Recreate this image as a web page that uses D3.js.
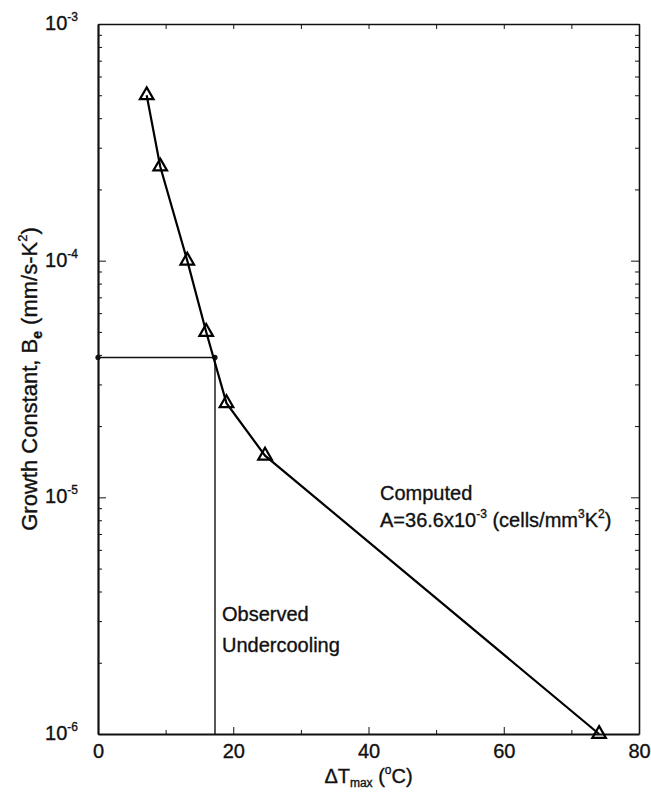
<!DOCTYPE html>
<html>
<head>
<meta charset="utf-8">
<script src="https://cdn.jsdelivr.net/npm/d3@7"></script>
<style>
  body { margin: 0; background: #fff; }
  svg { display: block; font-family: "Liberation Sans", Arial, Helvetica, sans-serif; }
  .axis path, .axis line { stroke: #111; }
  text { stroke: #111; stroke-width: 0.35px; }
</style>
</head>
<body>
<script>
// Data
var undercooling = [7.2, 9.2, 13.2, 16.0, 19.0, 24.7, 74.1];
var growthConstant = [5e-4, 2.5e-4, 1e-4, 5e-5, 2.5e-5, 1.5e-5, 1e-6];

// Observed undercooling and the growth constant it gives
var observedX = [0, 17.3, 17.3];
var observedY = [3.9e-5, 3.9e-5, 1e-6];

// Tick values and labels
var xMajorTicks = [0, 20, 40, 60, 80];
var xMinorTicks = [10, 30, 50, 70];
var yMajorTicks = [1e-6, 1e-5, 1e-4, 1e-3];
var yExponents = ["-6", "-5", "-4", "-3"];

// Define SVG area dimensions
var svgWidth = 651;
var svgHeight = 793;

var margin = { top: 24, right: 12, bottom: 59, left: 98 };
var chartWidth = svgWidth - margin.left - margin.right;
var chartHeight = svgHeight - margin.top - margin.bottom;

var svg = d3.select("body")
  .append("svg")
  .attr("width", svgWidth)
  .attr("height", svgHeight);

var chartGroup = svg.append("g")
  .attr("transform", `translate(${margin.left}, ${margin.top})`);

// Scales
var xScale = d3.scaleLinear().domain([0, 80]).range([0, chartWidth]);
var yScale = d3.scaleLog().domain([1e-6, 1e-3]).range([chartHeight, 0]);

// minor log ticks: 2..9 in each decade
var yMinorTicks = [];
yMajorTicks.slice(0, 3).forEach(function(d) {
  for (var k = 2; k <= 9; k++) yMinorTicks.push(d * k);
});

// Bottom axis (ticks point inward)
chartGroup.append("g")
  .classed("axis", true)
  .attr("transform", `translate(0, ${chartHeight})`)
  .call(d3.axisBottom(xScale).tickValues(xMajorTicks).tickSizeInner(-7).tickSizeOuter(0).tickPadding(10))
  .call(g => g.select(".domain").attr("stroke-width", 2.2))
  .call(g => g.selectAll("text").attr("font-size", 20).attr("fill", "#111").attr("font-family", null));

chartGroup.append("g")
  .classed("axis", true)
  .attr("transform", `translate(0, ${chartHeight})`)
  .call(d3.axisBottom(xScale).tickValues(xMinorTicks).tickSizeInner(-4).tickSizeOuter(0).tickFormat(""))
  .call(g => g.select(".domain").remove());

// Top axis
chartGroup.append("g")
  .classed("axis", true)
  .call(d3.axisTop(xScale).tickValues(xMajorTicks.concat(xMinorTicks)).tickSizeInner(-5).tickSizeOuter(0).tickFormat(""))
  .call(g => g.select(".domain").attr("stroke-width", 1.6));

// Left axis
chartGroup.append("g")
  .classed("axis", true)
  .call(d3.axisLeft(yScale).tickValues(yMajorTicks).tickSizeInner(-8).tickSizeOuter(0).tickFormat(""))
  .call(g => g.select(".domain").attr("stroke-width", 2.2));

chartGroup.append("g")
  .classed("axis", true)
  .call(d3.axisLeft(yScale).tickValues(yMinorTicks).tickSizeInner(-4).tickSizeOuter(0).tickFormat(""))
  .call(g => g.select(".domain").remove());

// Right axis
chartGroup.append("g")
  .classed("axis", true)
  .attr("transform", `translate(${chartWidth}, 0)`)
  .call(d3.axisRight(yScale).tickValues(yMajorTicks).tickSizeInner(-8).tickSizeOuter(0).tickFormat(""))
  .call(g => g.select(".domain").attr("stroke-width", 1.6));

chartGroup.append("g")
  .classed("axis", true)
  .attr("transform", `translate(${chartWidth}, 0)`)
  .call(d3.axisRight(yScale).tickValues(yMinorTicks).tickSizeInner(-4).tickSizeOuter(0).tickFormat(""))
  .call(g => g.select(".domain").remove());

// Y tick labels as 10 with a raised exponent
var yLabels = chartGroup.selectAll(".ylab")
  .data(yMajorTicks)
  .enter()
  .append("text")
  .attr("class", "ylab")
  .attr("x", -20)
  .attr("y", d => yScale(d) + 6)
  .attr("text-anchor", "end")
  .attr("font-size", 20)
  .attr("fill", "#111");
yLabels.append("tspan").text("10");
yLabels.append("tspan")
  .attr("font-size", 12)
  .attr("dy", -9)
  .text((d, i) => yExponents[i]);

// Observed undercooling lines
var observedLine = d3.line()
  .x((d, i) => xScale(observedX[i]))
  .y((d, i) => yScale(observedY[i]));

chartGroup.append("path")
  .attr("d", observedLine(observedX))
  .attr("fill", "none")
  .attr("stroke", "#111")
  .attr("stroke-width", 1.4);

chartGroup.selectAll(".obsdot")
  .data([0, 1])
  .enter()
  .append("circle")
  .attr("cx", i => xScale(observedX[i]))
  .attr("cy", i => yScale(observedY[i]))
  .attr("r", 2.6)
  .attr("fill", "#111");

// Computed curve
var drawLine = d3.line()
  .x((d, i) => xScale(undercooling[i]))
  .y((d, i) => yScale(growthConstant[i]));

chartGroup.append("path")
  .attr("d", drawLine(undercooling))
  .attr("fill", "none")
  .attr("stroke", "#000")
  .attr("stroke-width", 2.2);

// Open triangle markers
var triangle = d3.symbol().type(d3.symbolTriangle).size(80);
chartGroup.selectAll(".marker")
  .data(undercooling)
  .enter()
  .append("path")
  .attr("class", "marker")
  .attr("d", triangle)
  .attr("transform", (d, i) => `translate(${xScale(d)}, ${yScale(growthConstant[i])})`)
  .attr("fill", "none")
  .attr("stroke", "#000")
  .attr("stroke-width", 2.2);

// Annotations
chartGroup.append("text")
  .attr("x", 282)
  .attr("y", 476)
  .attr("font-size", 20)
  .attr("fill", "#111")
  .text("Computed");

var aText = chartGroup.append("text")
  .attr("x", 282)
  .attr("y", 503)
  .attr("font-size", 20)
  .attr("fill", "#111");
aText.append("tspan").text("A=36.6x10");
aText.append("tspan").attr("font-size", 12).attr("dy", -9).text("-3");
aText.append("tspan").attr("dy", 9).text(" (cells/mm");
aText.append("tspan").attr("font-size", 12).attr("dy", -9).text("3");
aText.append("tspan").attr("dy", 9).text("K");
aText.append("tspan").attr("font-size", 12).attr("dy", -9).text("2");
aText.append("tspan").attr("dy", 9).text(")");

chartGroup.append("text")
  .attr("x", 124)
  .attr("y", 597)
  .attr("font-size", 20)
  .attr("fill", "#111")
  .text("Observed");

chartGroup.append("text")
  .attr("x", 124)
  .attr("y", 628)
  .attr("font-size", 20)
  .attr("fill", "#111")
  .text("Undercooling");

// X axis title
var xTitle = chartGroup.append("text")
  .attr("transform", `translate(${chartWidth / 2}, ${chartHeight + 49})`)
  .attr("text-anchor", "middle")
  .attr("font-size", 20)
  .attr("fill", "#111");
xTitle.append("tspan").text("\u0394T");
xTitle.append("tspan").attr("font-size", 12).attr("dy", 4).text("max");
xTitle.append("tspan").attr("dy", -4).text(" (");
xTitle.append("tspan").attr("font-size", 12).attr("dy", -9).text("o");
xTitle.append("tspan").attr("dy", 9).text("C)");

// Y axis title
var yTitle = chartGroup.append("text")
  .attr("transform", `translate(${-margin.left + 37}, ${chartHeight / 2}) rotate(-90)`)
  .attr("text-anchor", "middle")
  .attr("font-size", 22)
  .attr("fill", "#111");
yTitle.append("tspan").text("Growth Constant, B");
yTitle.append("tspan").attr("font-size", 14).attr("font-weight", "bold").attr("dy", 5).text("e");
yTitle.append("tspan").attr("dy", -5).text(" (mm/s-K");
yTitle.append("tspan").attr("font-size", 13).attr("dy", -10).text("2");
yTitle.append("tspan").attr("dy", 10).text(")");
</script>
</body>
</html>
